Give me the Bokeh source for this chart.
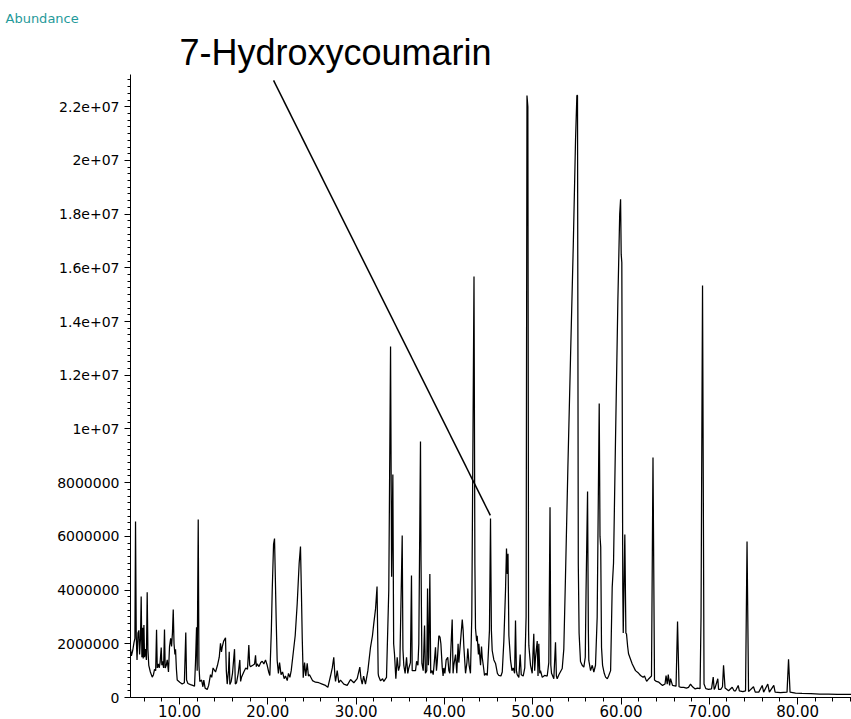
from bokeh.plotting import figure
from bokeh.models import Range1d, FixedTicker, Title
from bokeh.embed import file_html
from bokeh.resources import INLINE

# Retention time (min) and abundance (millions of counts)
retention_time = [
    4.45, 4.55, 4.70, 4.85, 4.95, 5.02, 5.10, 5.19, 5.30, 5.40, 5.48, 5.58, 5.66, 5.74, 5.82, 5.89, 5.97, 6.04, 6.15, 6.25,
    6.34, 6.42, 6.52, 6.70, 6.91, 7.05, 7.17, 7.30, 7.40, 7.48, 7.59, 7.70, 7.80, 7.93, 8.00, 8.07, 8.20, 8.30, 8.38, 8.50,
    8.61, 8.75, 8.87, 9.00, 9.10, 9.20, 9.29, 9.38, 9.48, 9.55, 9.65, 9.74, 10.03, 10.30, 10.55, 10.71, 10.80, 10.95, 11.25, 11.50,
    11.70, 11.81, 11.93, 12.00, 12.12, 12.20, 12.30, 12.50, 12.65, 12.75, 12.90, 13.14, 13.30, 13.51, 13.65, 13.80, 14.08, 14.30, 14.50, 14.64,
    14.75, 14.85, 15.00, 15.21, 15.30, 15.40, 15.55, 15.63, 15.70, 15.85, 16.00, 16.23, 16.32, 16.46, 16.65, 16.83, 16.92, 17.02, 17.28, 17.50,
    17.70, 17.85, 17.95, 18.04, 18.30, 18.50, 18.61, 18.70, 18.80, 19.00, 19.20, 19.37, 19.55, 19.74, 19.93, 20.10, 20.23, 20.40, 20.50, 20.65,
    20.76, 20.85, 20.95, 21.06, 21.20, 21.33, 21.50, 21.67, 21.85, 22.00, 22.20, 22.34, 22.50, 22.65, 22.91, 23.10, 23.33, 23.55, 23.70, 23.80,
    23.90, 24.01, 24.16, 24.30, 24.46, 24.60, 24.72, 25.06, 25.40, 25.78, 26.16, 26.53, 26.80, 27.10, 27.30, 27.47, 27.60, 27.67, 27.86, 28.04,
    28.23, 28.61, 28.99, 29.37, 29.74, 30.12, 30.42, 30.55, 30.69, 30.85, 31.06, 31.33, 31.63, 31.85, 32.00, 32.20, 32.37, 32.50, 32.54, 32.76,
    33.00, 33.14, 33.44, 33.70, 33.90, 34.02, 34.16, 34.25, 34.35, 34.50, 34.65, 34.80, 34.95, 35.22, 35.30, 35.40, 35.55, 35.71, 35.85, 35.97,
    36.15, 36.27, 36.35, 36.55, 36.73, 36.85, 37.00, 37.10, 37.29, 37.35, 37.45, 37.60, 37.75, 37.85, 38.00, 38.09, 38.18, 38.23, 38.35, 38.45,
    38.60, 38.73, 38.85, 38.99, 39.10, 39.18, 39.37, 39.50, 39.60, 39.75, 39.85, 39.93, 40.05, 40.20, 40.38, 40.50, 40.61, 40.88, 40.98, 41.06,
    41.26, 41.40, 41.55, 41.63, 42.02, 42.12, 42.20, 42.39, 42.55, 42.65, 42.80, 42.95, 43.10, 43.35, 43.45, 43.52, 43.65, 43.71, 43.85, 43.90,
    44.09, 44.20, 44.28, 44.40, 44.54, 44.70, 44.85, 45.10, 45.22, 45.32, 45.41, 45.60, 45.79, 46.00, 46.16, 46.40, 46.55, 46.73, 46.92, 47.03,
    47.12, 47.20, 47.30, 47.49, 47.65, 47.79, 47.95, 48.05, 48.15, 48.24, 48.43, 48.58, 48.70, 48.92, 49.10, 49.25, 49.35, 49.45, 49.53, 49.56,
    49.75, 49.94, 50.12, 50.22, 50.32, 50.51, 50.60, 50.69, 50.80, 50.88, 51.08, 51.34, 51.64, 51.82, 51.96, 52.05, 52.13, 52.39, 52.58, 52.68,
    52.77, 52.96, 53.34, 53.52, 53.71, 53.98, 54.28, 54.59, 54.85, 55.00, 55.07, 55.16, 55.25, 55.41, 55.60, 55.79, 55.95, 56.04, 56.21, 56.30,
    56.35, 56.55, 56.74, 56.92, 57.11, 57.30, 57.53, 57.62, 57.70, 57.79, 57.91, 58.10, 58.25, 58.45, 58.59, 58.82, 59.00, 59.15, 59.38, 59.64,
    59.85, 59.95, 60.02, 60.09, 60.20, 60.25, 60.43, 60.55, 60.62, 60.75, 60.85, 61.27, 61.64, 62.00, 62.21, 62.50, 62.66, 62.90, 63.15, 63.45,
    63.62, 63.79, 64.00, 64.28, 64.50, 64.70, 64.98, 65.10, 65.23, 65.35, 65.50, 65.61, 65.83, 66.23, 66.40, 66.57, 66.80, 67.11, 67.40, 67.64,
    67.87, 68.10, 68.40, 68.66, 68.95, 69.06, 69.23, 69.40, 69.60, 69.91, 70.25, 70.44, 70.55, 70.64, 70.96, 71.05, 71.30, 71.49, 71.61, 71.78,
    72.18, 72.59, 72.80, 72.97, 73.27, 73.40, 73.80, 74.10, 74.27, 74.44, 75.00, 75.20, 75.60, 75.99, 76.15, 76.62, 76.80, 77.30, 77.45, 78.06,
    78.80, 78.97, 79.14, 79.76, 80.50, 81.50, 82.50, 83.50, 84.50, 85.50, 86.10,
]
abundance_millions = [
    1.80, 1.55, 1.75, 2.05, 2.20, 6.55, 2.30, 1.40, 2.40, 2.50, 1.60, 2.20, 3.76, 1.50, 2.60, 1.45, 2.70, 1.50, 1.80, 1.40,
    3.92, 1.80, 1.20, 0.95, 0.76, 0.85, 1.05, 1.00, 2.52, 1.10, 1.25, 1.10, 1.30, 1.86, 1.20, 1.35, 1.10, 2.53, 1.10, 1.20,
    1.40, 0.95, 1.90, 2.20, 1.90, 2.40, 3.28, 2.00, 1.60, 1.80, 1.05, 0.65, 0.57, 0.50, 0.55, 2.42, 0.65, 0.52, 0.48, 0.45,
    0.42, 1.30, 2.62, 1.00, 6.63, 1.20, 0.60, 0.65, 0.40, 0.65, 0.35, 0.30, 0.45, 0.85, 0.75, 1.10, 0.95, 1.20, 1.50, 2.02,
    1.70, 1.90, 2.10, 2.22, 1.00, 0.50, 1.00, 1.70, 0.48, 0.60, 0.90, 1.80, 0.50, 0.55, 0.90, 1.40, 0.60, 0.75, 0.95, 1.10,
    1.05, 1.95, 1.20, 1.15, 1.20, 1.25, 1.57, 1.15, 1.25, 1.15, 1.30, 1.35, 1.25, 1.40, 1.20, 0.95, 0.82, 2.50, 4.00, 5.70,
    5.92, 4.50, 2.87, 1.38, 0.90, 1.30, 0.85, 0.95, 0.70, 0.80, 0.63, 0.90, 0.75, 1.00, 1.75, 2.30, 3.50, 5.00, 5.62, 4.00,
    2.20, 0.74, 1.30, 0.80, 1.27, 0.80, 0.85, 0.63, 0.57, 0.55, 0.50, 0.45, 0.38, 0.80, 1.10, 1.50, 0.80, 0.60, 1.00, 0.55,
    0.65, 0.50, 0.45, 0.67, 0.55, 0.70, 1.13, 0.70, 0.50, 0.80, 0.50, 1.00, 1.87, 2.30, 2.75, 3.30, 4.13, 0.90, 0.80, 0.62,
    0.70, 0.60, 0.75, 4.00, 13.07, 4.50, 8.30, 2.00, 1.60, 0.70, 1.50, 1.00, 1.20, 6.03, 1.80, 1.20, 0.90, 1.50, 0.90, 1.10,
    1.30, 4.54, 1.00, 1.00, 1.00, 1.35, 1.20, 2.00, 9.53, 5.10, 1.27, 1.00, 2.68, 0.90, 1.00, 4.06, 1.20, 1.50, 4.60, 0.90,
    1.00, 0.85, 1.30, 1.87, 1.00, 1.30, 2.30, 2.25, 2.00, 1.13, 0.80, 1.10, 0.90, 1.40, 1.50, 1.00, 0.90, 2.90, 0.90, 1.20,
    1.60, 0.90, 2.00, 1.30, 2.90, 2.50, 1.90, 0.90, 1.30, 1.82, 1.20, 0.90, 3.00, 15.68, 5.00, 2.57, 2.10, 2.30, 1.60, 2.00,
    1.20, 1.90, 1.50, 1.20, 0.82, 0.90, 0.82, 2.50, 6.67, 2.50, 1.75, 1.40, 1.27, 0.90, 0.82, 0.80, 0.95, 2.10, 4.00, 5.55,
    4.60, 5.35, 2.30, 1.38, 1.00, 1.10, 0.90, 2.87, 1.00, 0.85, 0.75, 1.60, 0.85, 0.80, 1.10, 3.00, 22.42, 22.00, 2.50, 1.94,
    1.20, 0.90, 2.37, 1.00, 1.50, 2.10, 0.80, 2.00, 0.90, 1.00, 0.75, 0.82, 0.80, 1.30, 7.08, 1.20, 0.90, 0.70, 2.06, 0.80,
    0.70, 0.85, 1.08, 1.80, 4.50, 8.55, 12.65, 16.80, 20.80, 22.42, 22.42, 5.00, 2.40, 1.34, 1.20, 1.13, 1.50, 4.00, 7.67, 2.50,
    1.38, 1.00, 1.20, 0.95, 1.20, 3.00, 10.95, 6.00, 5.60, 1.87, 1.20, 0.90, 0.76, 0.70, 0.80, 1.00, 4.10, 5.00, 9.70, 14.75,
    18.00, 18.55, 16.50, 16.20, 4.00, 2.40, 6.07, 2.40, 2.37, 1.90, 1.63, 1.25, 1.00, 0.90, 0.82, 0.75, 0.80, 0.60, 0.70, 0.80,
    8.94, 0.65, 0.60, 0.57, 0.50, 0.45, 0.50, 0.82, 0.50, 0.85, 0.45, 0.70, 0.45, 0.42, 2.83, 0.40, 0.38, 0.38, 0.35, 0.38,
    0.50, 0.40, 0.32, 0.35, 0.33, 3.00, 15.34, 0.50, 0.33, 0.30, 0.32, 0.76, 0.30, 0.35, 0.70, 0.30, 0.30, 0.40, 1.20, 0.35,
    0.25, 0.38, 0.25, 0.25, 0.45, 0.25, 0.22, 0.25, 5.81, 0.22, 0.40, 0.20, 0.20, 0.45, 0.20, 0.50, 0.20, 0.45, 0.20, 0.18,
    0.20, 1.42, 0.20, 0.16, 0.15, 0.14, 0.13, 0.13, 0.12, 0.12, 0.12,
]

x_tick_values = [10, 20, 30, 40, 50, 60, 70, 80]
x_tick_labels = ["10.00", "20.00", "30.00", "40.00", "50.00", "60.00", "70.00", "80.00"]
y_tick_values = [0, 2, 4, 6, 8, 10, 12, 14, 16, 18, 20, 22]
y_tick_labels = ["0", "2000000", "4000000", "6000000", "8000000", "1e+07",
                 "1.2e+07", "1.4e+07", "1.6e+07", "1.8e+07", "2e+07", "2.2e+07"]

title_text = "7-Hydroxycoumarin"
y_title = "Abundance"

# pointer from the compound name to its peak (retention time, abundance in millions)
pointer_x = [20.65, 45.20]
pointer_y = [22.98, 6.78]

p = figure(width=851, height=719, output_backend="svg", toolbar_location=None,
           x_range=Range1d(4.45, 86.1), y_range=Range1d(0, 23.2),
           min_border_left=130, min_border_right=0, min_border_top=74, min_border_bottom=22,
           background_fill_color="white", border_fill_color="white")
p.outline_line_color = None
p.grid.visible = False

# outermost title: the axis quantity in the top-left corner
p.title = Title(text=y_title, align="left", offset=-125, standoff=5,
                text_font="DejaVu Sans", text_font_size="13px",
                text_font_style="normal", text_color="#1f9a9a")
# title closest to the frame: the annotated compound
p.add_layout(Title(text=title_text, align="left", offset=49, standoff=3,
                   text_font="Liberation Sans", text_font_size="36px",
                   text_font_style="normal", text_color="black"), "above")

p.line(retention_time, abundance_millions, line_color="black", line_width=1.25)
p.line(pointer_x, pointer_y, line_color="black", line_width=1.5)

xa = p.xaxis[0]
xa.ticker = FixedTicker(ticks=x_tick_values, minor_ticks=list(range(4, 88, 2)))
xa.major_label_overrides = {v: s for v, s in zip(x_tick_values, x_tick_labels)}
xa.major_tick_in = 0
xa.major_tick_out = 7
xa.minor_tick_in = 0
xa.minor_tick_out = 4
xa.major_label_standoff = 0
xa.axis_line_color = "black"
xa.major_tick_line_color = "black"
xa.minor_tick_line_color = "black"
xa.major_label_text_font = "DejaVu Sans"
xa.major_label_text_font_size = "15px"
xa.major_label_text_color = "black"

ya = p.yaxis[0]
ya.ticker = FixedTicker(ticks=y_tick_values, minor_ticks=[i * 0.25 for i in range(0, 93)])
ya.major_label_overrides = {v: s for v, s in zip(y_tick_values, y_tick_labels)}
ya.major_tick_in = 0
ya.major_tick_out = 6
ya.minor_tick_in = 0
ya.minor_tick_out = 3
ya.major_label_standoff = 5
ya.axis_line_color = "black"
ya.major_tick_line_color = "black"
ya.minor_tick_line_color = "black"
ya.major_label_text_font = "DejaVu Sans"
ya.major_label_text_font_size = "14px"
ya.major_label_text_color = "black"

open("out.html", "w").write(file_html(p, INLINE))
